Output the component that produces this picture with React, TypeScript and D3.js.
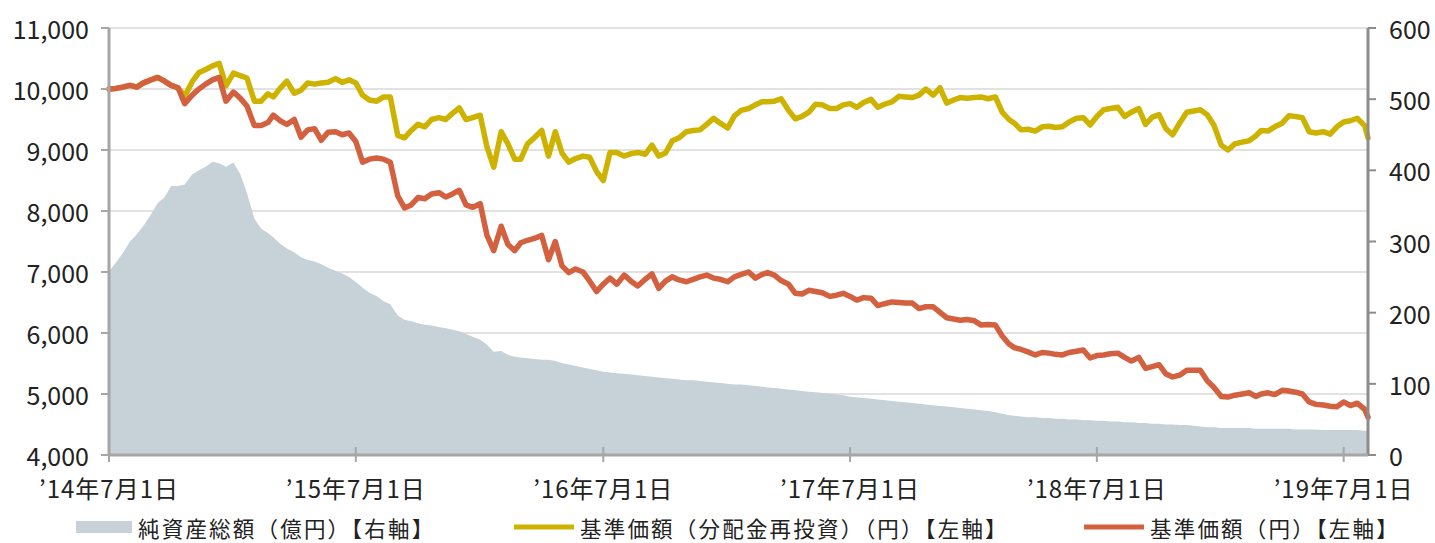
import React from 'react';
import * as d3 from 'd3';

// ---- data ----
const months = [
  '2014-07', '2014-08', '2014-09', '2014-10', '2014-11', '2014-12',
  '2015-01', '2015-02', '2015-03', '2015-04', '2015-05', '2015-06',
  '2015-07', '2015-08', '2015-09', '2015-10', '2015-11', '2015-12',
  '2016-01', '2016-02', '2016-03', '2016-04', '2016-05', '2016-06',
  '2016-07', '2016-08', '2016-09', '2016-10', '2016-11', '2016-12',
  '2017-01', '2017-02', '2017-03', '2017-04', '2017-05', '2017-06',
  '2017-07', '2017-08', '2017-09', '2017-10', '2017-11', '2017-12',
  '2018-01', '2018-02', '2018-03', '2018-04', '2018-05', '2018-06',
  '2018-07', '2018-08', '2018-09', '2018-10', '2018-11', '2018-12',
  '2019-01', '2019-02', '2019-03', '2019-04', '2019-05', '2019-06',
  '2019-07',
];
const days = ['01', '11', '21'];
const lastDates = ['2019-08-01', '2019-08-06'];

// 基準価額(円)
const navPrice = [
  10000, 10010, 10030, 10060, 10030, 10100, 10150, 10190, 10130, 10060, 10020, 9760,
  9900, 10000, 10080, 10150, 10190, 9800,
  9950, 9850, 9720, 9400, 9400, 9450, 9570, 9480, 9420, 9500, 9210, 9330,
  9350, 9160, 9290, 9300, 9250, 9280, 9140, 8800, 8850, 8870, 8850, 8800,
  8250, 8050, 8100, 8220, 8200, 8280, 8300, 8230, 8280, 8340, 8100, 8060,
  8120, 7600, 7350, 7750, 7450, 7350, 7480, 7520, 7550, 7600, 7200, 7500,
  7100, 6990, 7050, 7000, 6850, 6680, 6800, 6900, 6800, 6950, 6850, 6770,
  6880, 6970, 6730, 6850, 6920, 6870, 6840, 6880, 6920, 6950, 6900, 6880,
  6840, 6920, 6960, 7000, 6900, 6960, 6990, 6950, 6860, 6800, 6650, 6640,
  6700, 6680, 6660, 6600, 6620, 6650, 6600, 6540, 6580, 6570, 6450, 6480,
  6510, 6500, 6490, 6490, 6400, 6430, 6430, 6340, 6250, 6230, 6210, 6220,
  6200, 6130, 6140, 6130, 5950, 5820, 5760, 5730, 5690, 5640, 5680, 5670,
  5650, 5640, 5680, 5700, 5720, 5590, 5630, 5640, 5660, 5670, 5600, 5540,
  5600, 5420, 5450, 5480, 5330, 5280, 5310, 5390, 5390, 5390, 5220, 5110,
  4960, 4950, 4980, 5000, 5020, 4960, 5000, 5020, 4990, 5060, 5050, 5030,
  5000, 4870, 4830, 4820, 4800, 4790, 4870, 4810, 4850,
  4750, 4620,
];

// 基準価額(分配金再投資)(円)
const navReinvested = [
  10000, 10010, 10030, 10060, 10030, 10100, 10150, 10190, 10130, 10060, 10020, 9880,
  10120, 10270, 10320, 10380, 10420, 10050,
  10260, 10220, 10180, 9800, 9800, 9920, 9870, 10010, 10130, 9930, 9980, 10100,
  10080, 10100, 10110, 10170, 10110, 10150, 10100, 9900, 9820, 9800, 9870, 9870,
  9240, 9200, 9320, 9420, 9380, 9500, 9530, 9500, 9600, 9690, 9500, 9530,
  9570, 9050, 8720, 9300, 9100, 8850, 8850, 9100, 9200, 9320, 8900, 9300,
  8950, 8800, 8860, 8900, 8880, 8650, 8500, 8960, 8960, 8900, 8940, 8960,
  8930, 9080, 8900, 8950, 9150, 9200, 9300, 9320, 9330, 9420, 9520, 9440,
  9360, 9560, 9650, 9680, 9740, 9790, 9790, 9800, 9840, 9650, 9510, 9550,
  9620, 9750, 9740, 9680, 9680, 9740, 9760, 9700, 9780, 9830, 9700, 9750,
  9790, 9880, 9870, 9860, 9900, 10000, 9900, 10020, 9770, 9820, 9860, 9850,
  9860, 9870, 9840, 9870, 9620, 9500, 9440, 9330, 9340, 9310, 9380, 9390,
  9370, 9380, 9460, 9520, 9530, 9410, 9550, 9660, 9680, 9700, 9550, 9620,
  9680, 9420, 9540, 9580, 9350, 9250, 9450, 9620, 9640, 9660, 9580, 9410,
  9080, 9000, 9100, 9130, 9150, 9230, 9320, 9310, 9380, 9440, 9560, 9550,
  9530, 9300, 9280, 9300, 9260, 9380, 9460, 9480, 9520,
  9400, 9200,
];

// 純資産総額(億円)
const netAssets = [
  258, 270, 283, 300, 310, 322, 338, 354, 362, 378, 378, 380,
  394, 400, 405, 412, 410, 405,
  411, 395, 368, 332, 318, 312, 306, 297, 290, 285, 278, 274,
  272, 268, 263, 259, 255, 250, 243, 235, 228, 223, 216, 212,
  196, 190, 188, 185, 183, 182, 180, 178, 176, 174, 170, 166,
  162, 155, 145, 146, 141, 138, 137, 136, 135, 134, 134, 132,
  129, 127, 125, 123, 121, 119, 117, 116, 115, 114, 113, 112,
  111, 110, 109, 108, 107, 106, 105, 105, 104, 103, 102, 101,
  100, 99, 99, 98, 97, 96, 95, 94, 93, 92, 91, 90,
  89, 88, 87, 86, 85, 84, 82, 81, 80, 79, 78, 77,
  76, 75, 74, 73, 72, 71, 70, 69, 68, 67, 66, 65,
  64, 63, 62, 60, 58, 56, 55, 54, 53, 53, 52, 52,
  51, 51, 50, 50, 49, 49, 48, 48, 47, 47, 46, 46,
  45, 45, 44, 44, 43, 43, 42, 42, 41, 40, 39, 39,
  38, 38, 38, 38, 38, 37, 37, 37, 37, 37, 37, 36,
  36, 36, 36, 35, 35, 35, 35, 35, 35,
  34, 34,
];

const leftTicks = [4000, 5000, 6000, 7000, 8000, 9000, 10000, 11000];
const rightTicks = [0, 100, 200, 300, 400, 500, 600];
const xTickDates = ['2014-07-01', '2015-07-01', '2016-07-01', '2017-07-01', '2018-07-01', '2019-07-01'];
const xTickLabels = ['’14年7月1日', '’15年7月1日', '’16年7月1日', '’17年7月1日', '’18年7月1日', '’19年7月1日'];
const legendLabels = ['純資産総額（億円）【右軸】', '基準価額（分配金再投資）（円）【左軸】', '基準価額（円）【左軸】'];

const parse = d3.timeParse('%Y-%m-%d');
const dateStrings = months.flatMap((m) => days.map((d) => `${m}-${d}`)).concat(lastDates);
const dates = dateStrings.map((s) => parse(s) as Date);

const FONT = '"Noto Sans CJK JP", "Noto Sans", sans-serif';
const GOLD = '#CDB300';
const RED = '#D3603F';
const AREA = '#C6D1D8';
const TEXT = '#222';

export default function App() {
  const width = 1435;
  const height = 543;
  const left = 109;
  const right = 1368;
  const top = 28;
  const bottom = 455;

  const x = d3.scaleTime().domain([dates[0], dates[dates.length - 1]]).range([left, right]);
  const yL = d3.scaleLinear().domain([4000, 11000]).range([bottom, top]);
  const yR = d3.scaleLinear().domain([0, 600]).range([bottom, top]);

  const idx = dates.map((_, i) => i);
  const area = d3
    .area<number>()
    .x((i) => x(dates[i]))
    .y0(yR(0))
    .y1((i) => yR(netAssets[i]));
  const lineOf = (vals: number[]) =>
    d3
      .line<number>()
      .x((i) => x(dates[i]))
      .y((i) => yL(vals[i]));

  const fmt = d3.format(',');

  return (
    <svg
      width={width}
      height={height}
      style={{ position: 'absolute', left: 0, top: 0, background: '#fff' }}
      fontFamily={FONT}
    >
      {/* grid */}
      {leftTicks.slice(1).map((t) => (
        <line key={t} x1={left} x2={right} y1={yL(t)} y2={yL(t)} stroke="#D9D9D9" strokeWidth={1.5} />
      ))}

      {/* net assets area */}
      <path d={area(idx) || ''} fill={AREA} />

      {/* lines */}
      <path d={lineOf(navReinvested)(idx) || ''} fill="none" stroke={GOLD} strokeWidth={5.5} strokeLinejoin="round" strokeLinecap="round" />
      <path d={lineOf(navPrice)(idx) || ''} fill="none" stroke={RED} strokeWidth={5.5} strokeLinejoin="round" strokeLinecap="round" />

      {/* left axis */}
      <line x1={left} x2={left} y1={top} y2={bottom} stroke="#A6A6A6" strokeWidth={3} />
      {leftTicks.map((t) => (
        <g key={t}>
          <line x1={left - 8} x2={left} y1={yL(t)} y2={yL(t)} stroke="#A6A6A6" strokeWidth={2} />
          <text x={89} y={yL(t)} textAnchor="end" dominantBaseline="central" fontSize={25} fill={TEXT}>
            {fmt(t)}
          </text>
        </g>
      ))}

      {/* right axis */}
      <line x1={right} x2={right} y1={top} y2={bottom} stroke="#8C8C8C" strokeWidth={3} />
      {rightTicks.map((t) => (
        <g key={t}>
          <line x1={right} x2={right + 8} y1={yR(t)} y2={yR(t)} stroke="#8C8C8C" strokeWidth={2} />
          <text x={1389} y={yR(t)} textAnchor="start" dominantBaseline="central" fontSize={25} fill={TEXT}>
            {t}
          </text>
        </g>
      ))}

      {/* bottom axis */}
      <line x1={left} x2={right} y1={bottom} y2={bottom} stroke="#A6A6A6" strokeWidth={3} />
      {xTickDates.map((d, i) => {
        const px = x(parse(d) as Date);
        return (
          <g key={d}>
            <line x1={px} x2={px} y1={bottom - 8} y2={bottom + 7} stroke="#A6A6A6" strokeWidth={2} />
            <text x={px} y={487} textAnchor="middle" dominantBaseline="central" fontSize={24} letterSpacing={1} fill={TEXT}>
              {xTickLabels[i]}
            </text>
          </g>
        );
      })}

      {/* legend */}
      <g fontSize={21.5} letterSpacing={2.2} fill={TEXT}>
        <rect x={76} y={521} width={56} height={12} fill={AREA} />
        <text x={138} y={527} dominantBaseline="central">
          {legendLabels[0]}
        </text>
        <line x1={514} x2={574} y1={527} y2={527} stroke={GOLD} strokeWidth={5} />
        <text x={580} y={527} dominantBaseline="central">
          {legendLabels[1]}
        </text>
        <line x1={1084} x2={1144} y1={527} y2={527} stroke={RED} strokeWidth={5} />
        <text x={1150} y={527} dominantBaseline="central">
          {legendLabels[2]}
        </text>
      </g>
    </svg>
  );
}
